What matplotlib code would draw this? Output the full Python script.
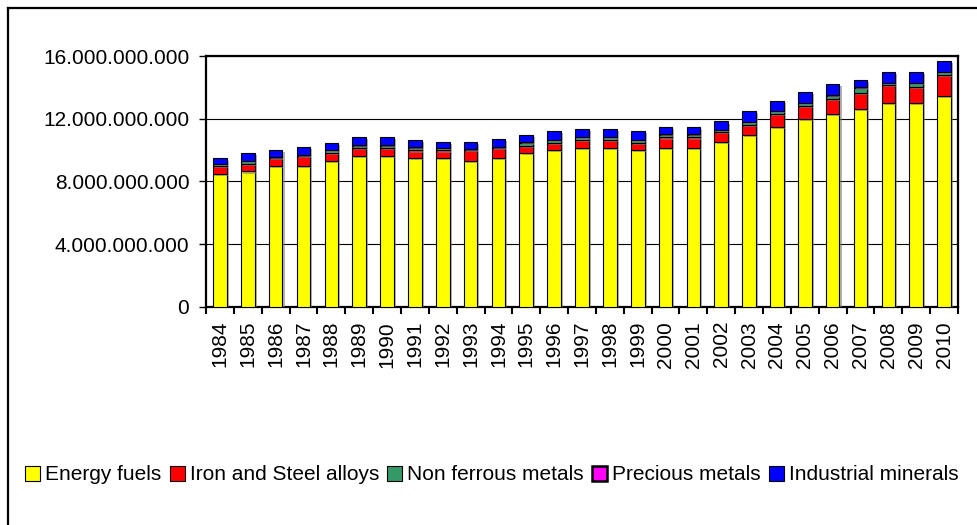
import matplotlib
matplotlib.use("Agg")
import matplotlib.pyplot as plt
import numpy as np
from matplotlib.ticker import FuncFormatter, FixedLocator
from matplotlib.lines import Line2D
import matplotlib.patheffects as pe

years = [str(y) for y in range(1984, 2011)]
energy_fuels = [8.50, 8.64, 8.98, 8.98, 9.31, 9.62, 9.62, 9.48, 9.48, 9.31, 9.48, 9.81, 10.00,
                10.14, 10.14, 10.00, 10.14, 10.14, 10.50, 10.98, 11.50, 12.00, 12.31, 12.64,
                13.00, 13.00, 13.48]
iron_steel = [0.48, 0.50, 0.50, 0.65, 0.50, 0.50, 0.50, 0.50, 0.50, 0.69, 0.65, 0.48, 0.48,
              0.50, 0.50, 0.48, 0.67, 0.67, 0.64, 0.65, 0.81, 0.81, 0.98, 1.00, 1.14, 1.00, 1.31]
non_ferrous = [0.13, 0.15, 0.03, 0.04, 0.17, 0.17, 0.17, 0.18, 0.15, 0.02, 0.02, 0.18, 0.17,
               0.17, 0.17, 0.17, 0.18, 0.18, 0.15, 0.17, 0.18, 0.17, 0.19, 0.34, 0.15, 0.29, 0.19]
precious = [0.02] * 27
industrial = [0.34, 0.52, 0.50, 0.50, 0.48, 0.52, 0.55, 0.47, 0.36, 0.48, 0.52, 0.50, 0.53,
              0.50, 0.50, 0.53, 0.48, 0.48, 0.52, 0.69, 0.64, 0.69, 0.69, 0.50, 0.69, 0.69, 0.66]

series_names = ["Energy fuels", "Iron and Steel alloys", "Non ferrous metals",
                "Precious metals", "Industrial minerals"]
series_vals = [energy_fuels, iron_steel, non_ferrous, precious, industrial]
colors = ["#FFFF00", "#FF0000", "#339966", "#FF00FF", "#0000FF"]
yticks = [0, 4e9, 8e9, 12e9, 16e9]

plt.rcParams['font.family'] = ['Liberation Sans', 'DejaVu Sans']
FS = 15

fig = plt.figure(figsize=(9.78, 5.25), dpi=100)
ax = fig.add_axes([206/978, 1-307/525, (958-206)/978, (307-56)/525])

x = np.arange(len(years))
bottom = np.zeros(len(years))
shadow = [pe.SimplePatchShadow(offset=(1.5, -1.5), shadow_rgbFace=(0.5, 0.5, 0.5), alpha=0.6),
          pe.Normal()]
for name, vals, c in zip(series_names, series_vals, colors):
    v = np.array(vals) * 1e9
    ax.bar(x, v, width=0.49, bottom=bottom, color=c, edgecolor="black", linewidth=0.8,
           label=name, zorder=3, path_effects=shadow)
    bottom += v

ax.set_xlim(-0.5, len(years) - 0.5)
ax.set_ylim(0, 16e9)
ax.yaxis.set_major_locator(FixedLocator(yticks))
ax.yaxis.set_major_formatter(FuncFormatter(lambda v, p: f"{int(round(v)):,}".replace(",", ".")))
ax.yaxis.grid(True, color="black", linewidth=0.8, zorder=0)
ax.set_axisbelow(True)

ax.set_xticks(x)
ax.set_xticklabels(years, rotation=90, fontsize=FS)
ax.tick_params(axis="x", which="major", length=0, pad=10)
ax.set_xticks(np.arange(-0.5, len(years), 1.0), minor=True)
ax.tick_params(axis="x", which="minor", length=5, width=1.5, direction="out")
ax.tick_params(axis="y", length=5, width=1, direction="out", labelsize=FS, pad=7)

for s in ax.spines.values():
    s.set_linewidth(1.6)
    s.set_color("black")

leg = fig.legend(loc="center left", bbox_to_anchor=(25/978, 1-475/525), ncol=5, frameon=False,
                 fontsize=FS, handlelength=0.72, handleheight=0.72, handletextpad=0.24,
                 columnspacing=0.4, borderaxespad=0, borderpad=0)
for h, lw in zip(leg.legend_handles, [0.8, 0.8, 0.8, 1.8, 0.8]):
    h.set_path_effects([])
    h.set_linewidth(lw)

fig.add_artist(Line2D([8/978, 8/978], [0, 1-8/525], color="black", linewidth=1.6,
                      transform=fig.transFigure))
fig.add_artist(Line2D([8/978, 1], [1-8/525, 1-8/525], color="black", linewidth=1.6,
                      transform=fig.transFigure))

fig.savefig("out.png", dpi=100)
